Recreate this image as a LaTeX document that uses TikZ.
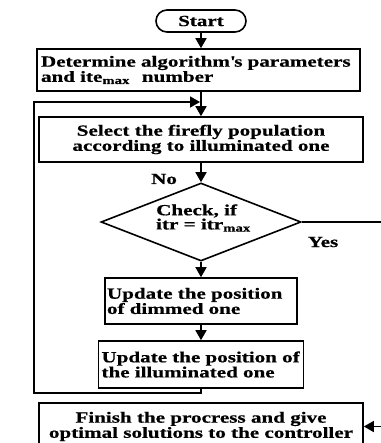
\documentclass[tikz,border=0pt]{standalone}
\usepackage{fontspec}
\setmainfont{Liberation Serif}[FakeStretch=1.36,FakeBold=0.6]
\usetikzlibrary{arrows.meta,shapes.geometric}
\begin{document}
\begin{tikzpicture}[x=1pt,y=-1pt,
  every node/.style={font=\fontsize{15.5}{12.5}\selectfont\bfseries},
  box/.style={draw,line width=1.6pt,rectangle,inner ysep=0pt},
  ar/.style={line width=1.6pt,-{Triangle[length=10pt,width=11pt]}},
  lbl/.style={anchor=base,inner sep=0pt}]
\useasboundingbox (0,0) rectangle (380,443);
\fill[white] (0,0) rectangle (380,443);
\node[draw,line width=1.6pt,rounded corners=11pt,minimum width=90pt,minimum height=22pt,inner sep=0pt] (start) at (201,21) {Start};
\node[box,minimum width=323pt,minimum height=42pt,text width=315pt,inner xsep=4pt,align=left] (param) at (198.5,70) {Determine algorithm\textquotesingle s parameters\\and ite\textsubscript{max}\hspace{12pt}number};
\node[box,minimum width=324pt,minimum height=45pt,align=center] (select) at (201,139.5) {Select the firefly population\\according to illuminated one};
\node[draw,diamond,line width=1.6pt,minimum width=200pt,minimum height=78pt,inner sep=0pt] (chk) at (201,222) {};
\node[align=left,anchor=west,inner sep=0pt] (chkt) at (156,218) {Check, if\\itr = itr\textsubscript{max}};
\node[box,minimum width=192pt,minimum height=46pt,text width=188pt,inner xsep=2pt,align=left] (dim) at (201,301) {Update the position\\of dimmed one};
\node[box,minimum width=205pt,minimum height=47pt,text width=199pt,inner xsep=3pt,align=left] (ill) at (201,364.5) {Update the position of\\the illuminated one};
\node[box,minimum width=324pt,minimum height=47pt,align=center] (fin) at (201,426.5) {Finish the procress and give\\optimal solutions to the controller};
\node[lbl] (no) at (164,184) {No};
\node[lbl] (yes) at (323,247) {Yes};
\coordinate (lb) at (201,393);
\coordinate (ll) at (34,393);
\coordinate (lt) at (34,102);
\coordinate (lin) at (200,102);
\coordinate (rt) at (395,222);
\coordinate (rb) at (395,426.5);
\draw[ar] (start.south) -- (start.south |- param.north);
\draw[ar] (start.south |- param.south) -- (select.north);
\draw[ar] (select.south) -- (chk.north);
\draw[ar] (chk.south) -- (dim.north);
\draw[ar] (dim.south) -- (ill.north);
\draw[ar] (ill.south) -- (lb) -- (ll) -- (lt) -- (lin);
\draw[ar] (chk.east) -- (rt) -- (rb) -- (fin.east);
\end{tikzpicture}
\end{document}
